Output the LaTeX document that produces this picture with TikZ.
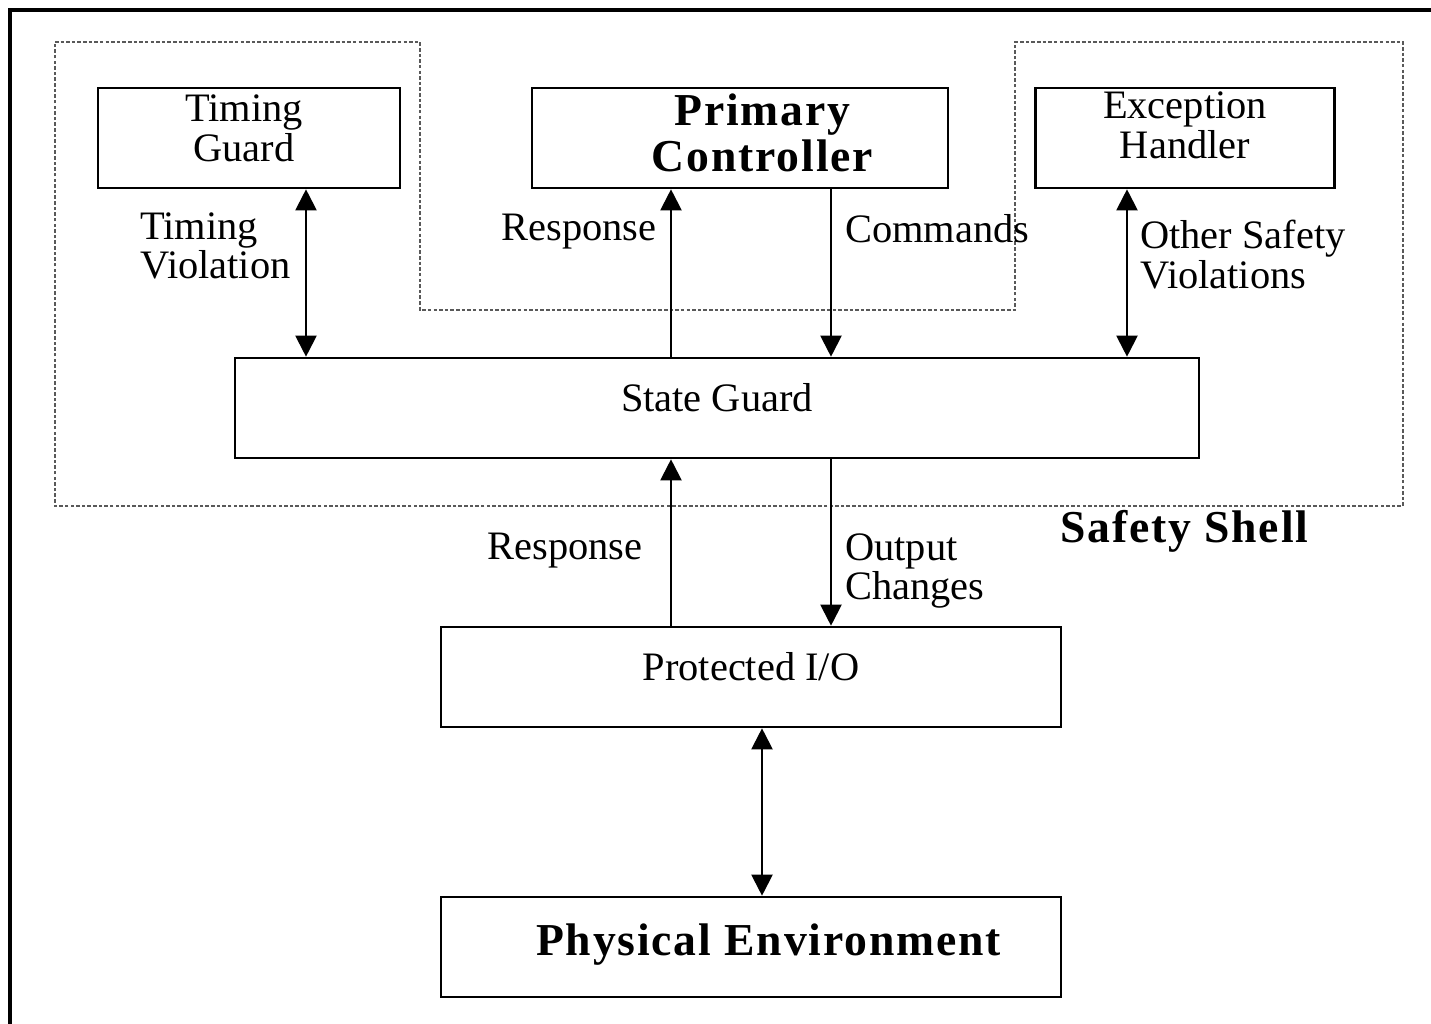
\documentclass[tikz,border=0pt]{standalone}
\usepackage{fontspec}
\setmainfont{Liberation Serif}
\newfontfamily\widebf[LetterSpace=4]{Liberation Serif}
\usetikzlibrary{arrows.meta}

\begin{document}
\begin{tikzpicture}[x=0.02cm,y=-0.02cm,
    blk/.style={draw,line width=1.5pt,inner sep=0pt,minimum height=2cm},
    txt/.style={align=center,inner sep=0pt,yshift=0.2cm,
      font=\fontsize{23}{22.7}\selectfont},
    btxt/.style={txt,font=\widebf\fontsize{26}{26.6}\selectfont\bfseries},
    lbl/.style={align=left,inner sep=0pt,font=\fontsize{23}{22.7}\selectfont},
    tip/.tip={Triangle[length=12pt,width=12pt]},
    flow/.style={line width=1.2pt,-tip},
    both/.style={line width=1.2pt,tip-tip},
    shell/.style={black!65,line width=1.1pt,dash pattern=on 2pt off 1.2pt}]
    \useasboundingbox (0,0) rectangle (1431,1024);
    \draw[line width=2.8pt] (10,1024) -- (10,10) -- (1431,10);
    \draw[shell] (55,42) -- (420,42) -- (420,310) -- (1015,310) -- (1015,42)
      -- (1403,42) -- (1403,506) -- (55,506) -- cycle;

    \node[blk,minimum width=6.04cm,label={[txt,xshift=-0.1cm]center:Timing\\Guard}]
      (tg) at (249,138) {};
    \node[blk,minimum width=8.32cm,label={[btxt,xshift=0.45cm,yshift=-0.1cm]center:Primary\\Controller}]
      (pc) at (740,138) {};
    \node[blk,minimum width=5.98cm,label={[txt,yshift=0.05cm]center:Exception\\Handler}]
      (eh) at (1185,138) {};
    \node[blk,minimum width=19.28cm,label={[txt]center:State Guard}]
      (sg) at (717,408) {};
    \node[blk,minimum width=12.4cm,label={[txt]center:Protected I/O}]
      (pio) at (751,677) {};
    \node[blk,minimum width=12.4cm,label={[btxt,xshift=0.35cm,yshift=-0.15cm]center:Physical Environment}]
      (env) at (751,947) {};

    \coordinate (c1) at (306,0);
    \coordinate (c2) at (671,0);
    \coordinate (c3) at (831,0);
    \coordinate (c4) at (1127,0);
    \coordinate (c5) at (762,0);

    \draw[both] (tg.south -| c1) -- (sg.north -| c1);
    \draw[flow] (sg.north -| c2) -- (pc.south -| c2);
    \draw[flow] (pc.south -| c3) -- (sg.north -| c3);
    \draw[both] (eh.south -| c4) -- (sg.north -| c4);
    \draw[flow] (pio.north -| c2) -- (sg.south -| c2);
    \draw[flow] (sg.south -| c3) -- (pio.north -| c3);
    \draw[both] (pio.south -| c5) -- (env.north -| c5);

    \node[lbl,anchor=north west] (tv) at (140,212) {Timing\\Violation};
    \node[lbl,anchor=north east] (r1) at (657,214) {Response};
    \node[lbl,anchor=north west] (cm) at (845,214) {Commands};
    \node[lbl,anchor=north west] (ov) at (1140,220) {Other Safety\\Violations};
    \node[lbl,anchor=north east] (r2) at (643,533) {Response};
    \node[lbl,anchor=north west] (oc) at (845,533) {Output\\Changes};
    \node[lbl,anchor=north west,font=\widebf\fontsize{26}{26.6}\selectfont\bfseries]
      (ss) at (1060,510) {Safety Shell};
\end{tikzpicture}
\end{document}
